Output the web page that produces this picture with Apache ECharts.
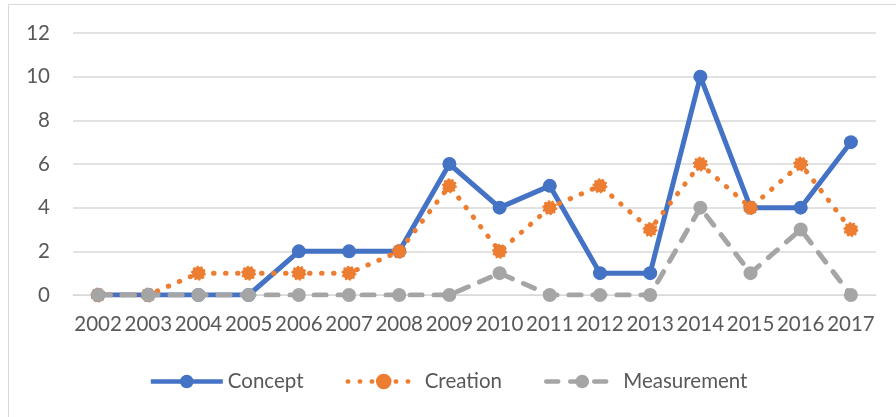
<!DOCTYPE html>
<html>
<head>
<meta charset="utf-8">
<script src="https://cdn.jsdelivr.net/npm/echarts@6/dist/echarts.min.js"></script>
<style>
html,body{margin:0;padding:0;background:#fff;}
#chart{width:896px;height:417px;}
</style>
</head>
<body>
<div id="chart"></div>
<script>
const years = ['2002','2003','2004','2005','2006','2007','2008','2009','2010','2011','2012','2013','2014','2015','2016','2017'];
const concept = [0,0,0,0,2,2,2,6,4,5,1,1,10,4,4,7];
const creation = [0,0,1,1,1,1,2,5,2,4,5,3,6,4,6,3];
const measurement = [0,0,0,0,0,0,0,0,1,0,0,0,4,1,3,0];
const yTicks = [0,2,4,6,8,10,12];

const FONT = 'Lato';
const chart = echarts.init(document.getElementById('chart'), null, {renderer:'canvas'});
chart.setOption({
  animation:false,
  backgroundColor:'#fff',
  graphic:[{type:'rect',shape:{x:8.5,y:4.5,width:900,height:430},style:{fill:'none',stroke:'#D9D9D9',lineWidth:1}}],
  grid:{left:73,right:20,top:33,bottom:122},
  xAxis:{type:'category',data:years,boundaryGap:true,
    axisLine:{lineStyle:{color:'#D9D9D9',width:1}},axisTick:{show:false},
    axisLabel:{color:'#595959',fontFamily:FONT,fontSize:20.5,margin:19,interval:0}},
  yAxis:{type:'value',min:yTicks[0],max:yTicks[yTicks.length-1],interval:2,
    axisLine:{show:false},axisTick:{show:false},
    splitLine:{lineStyle:{color:'#D9D9D9',width:1.5}},
    axisLabel:{color:'#595959',fontFamily:FONT,fontSize:20.5,margin:23}},
  legend:{bottom:20,left:'center',itemWidth:72,itemHeight:17,itemGap:42,
    lineStyle:{width:4.5},
    textStyle:{color:'#595959',fontFamily:FONT,fontSize:20.5},
    data:['Concept','Creation','Measurement']},
  series:[
    {name:'Concept',type:'line',data:concept,symbol:'circle',symbolSize:14,
      lineStyle:{color:'#4472C4',width:5},itemStyle:{color:'#4472C4'},z:2},
    {name:'Creation',type:'line',data:creation,symbol:'circle',symbolSize:13,
      lineStyle:{color:'#ED7D31',width:5,type:[0.5,11.5],cap:'round'},
      itemStyle:{color:'#ED7D31',borderColor:'#ED7D31',borderWidth:2,borderType:[2,2]},z:3},
    {name:'Measurement',type:'line',data:measurement,symbol:'circle',symbolSize:14,
      lineStyle:{color:'#A5A5A5',width:5,type:[12,12],cap:'round'},itemStyle:{color:'#A5A5A5'},z:4}
  ]
});
</script>
</body>
</html>
